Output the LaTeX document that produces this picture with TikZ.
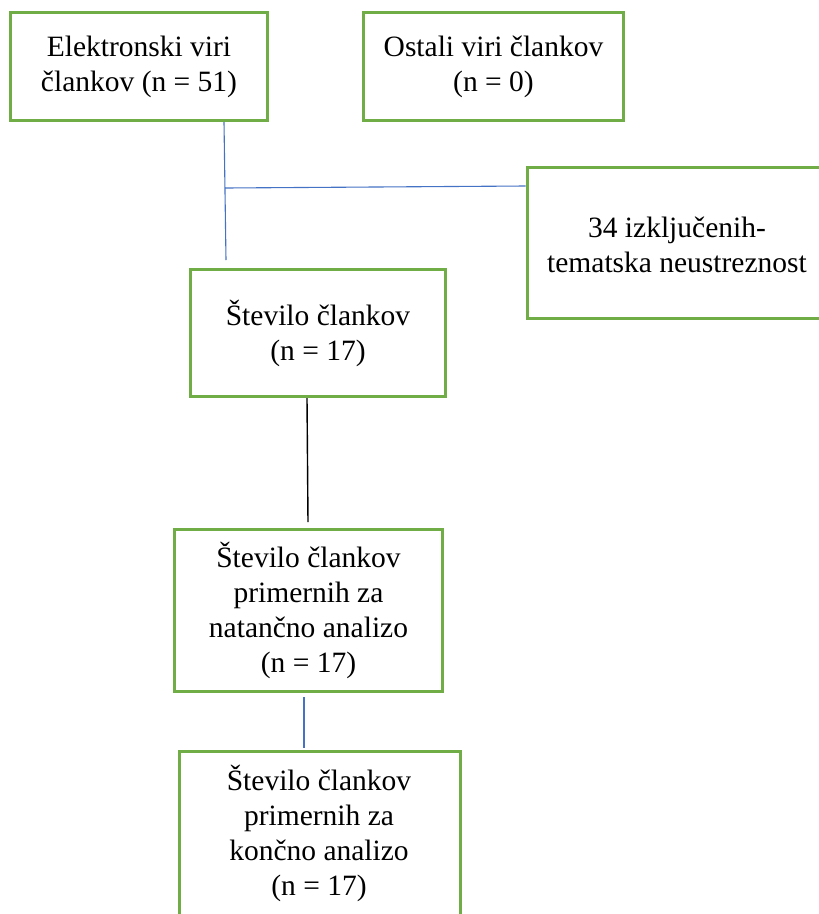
\documentclass[tikz,border=0pt]{standalone}
\usepackage{fontspec}
\setmainfont{Liberation Serif}
\definecolor{boxgreen}{HTML}{70AD47}
\definecolor{lineblue}{HTML}{4472C4}
\begin{document}
\begin{tikzpicture}[x=1pt,y=1pt,
  box/.style={draw=boxgreen, line width=3pt, inner sep=0pt, align=center,
    font=\fontsize{29.5}{35}\selectfont},
  txt/.style={inner sep=0pt, align=center, font=\fontsize{29.5}{35}\selectfont},
  bline/.style={draw=lineblue, line width=1.1pt},
  kline/.style={draw=black, line width=1.4pt}]
\useasboundingbox (0,0) rectangle (819,-914);
\clip (0,0) rectangle (819,-914);
\node[box, minimum width=500, minimum height=151] (b3) at (777,-243) {};
\node[txt] (b3t) at (677,-245) {34 izključenih-\\tematska neustreznost};
\node[box, minimum width=257, minimum height=108] (b1) at (139,-66.5) {Elektronski viri\\člankov (n = 51)};
\node[box, minimum width=260, minimum height=108] (b2) at (493.5,-66.5) {Ostali viri člankov\\(n = 0)};
\node[box, minimum width=255, minimum height=127] (b4) at (318,-333) {Število člankov\\(n = 17)};
\node[box, minimum width=268, minimum height=162] (b5) at (308.5,-610.5) {Število člankov\\primernih za\\natančno analizo\\(n = 17)};
\node[box, minimum width=281, minimum height=185] (b6) at (320,-844) {};
\node[txt] (b6t) at (319,-833) {Število člankov\\primernih za\\končno analizo\\(n = 17)};
\coordinate (v1) at (224,0);
\coordinate (v1end) at (226,-260);
\coordinate (j) at (225,-188);
\coordinate (k1) at (307,0);
\coordinate (k1end) at (308,-522);
\coordinate (u1) at (304,0);
\coordinate (u1end) at (304,-748);
\draw[bline] (b1.south -| v1) -- (v1end);
\draw[bline] (j) -- (b3.west |- 0,-186);
\draw[kline] (b4.south -| k1) -- (k1end);
\draw[bline] ([yshift=-4pt]b5.south -| u1) -- (u1end);
\end{tikzpicture}
\end{document}
